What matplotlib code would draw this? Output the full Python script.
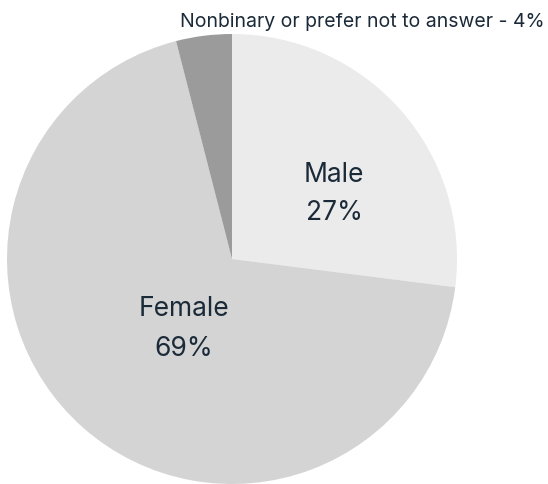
import matplotlib
matplotlib.use("Agg")
import matplotlib.pyplot as plt

categories = ["Male", "Female", "Nonbinary or prefer not to answer"]
values = [27, 69, 4]
colors = ["#ebebeb", "#d4d4d4", "#9b9b9b"]
text_color = "#1b2a38"

plt.rcParams['font.family'] = ['Inter', 'DejaVu Sans']

fig = plt.figure(figsize=(5.48, 4.85), dpi=100)
ax = fig.add_axes([0, 0, 1, 1])
ax.set_xlim(0, 548)
ax.set_ylim(0, 485)
ax.set_aspect('equal')
ax.axis('off')

ax.pie(values, colors=colors, startangle=90, counterclock=False,
       center=(232, 225), radius=225, wedgeprops=dict(linewidth=0))
ax.set_xlim(0, 548)
ax.set_ylim(0, 485)

ax.text(334, 291, f"{categories[0]}\n{values[0]}%", ha='center', va='center',
        fontsize=19, color=text_color, linespacing=1.65)
ax.text(184, 156, f"{categories[1]}\n{values[1]}%", ha='center', va='center',
        fontsize=19, color=text_color, linespacing=1.7)
ax.text(545, 463, f"{categories[2]} - {values[2]}%", ha='right', va='center',
        fontsize=14, color=text_color)

fig.savefig("out.png", dpi=100)
